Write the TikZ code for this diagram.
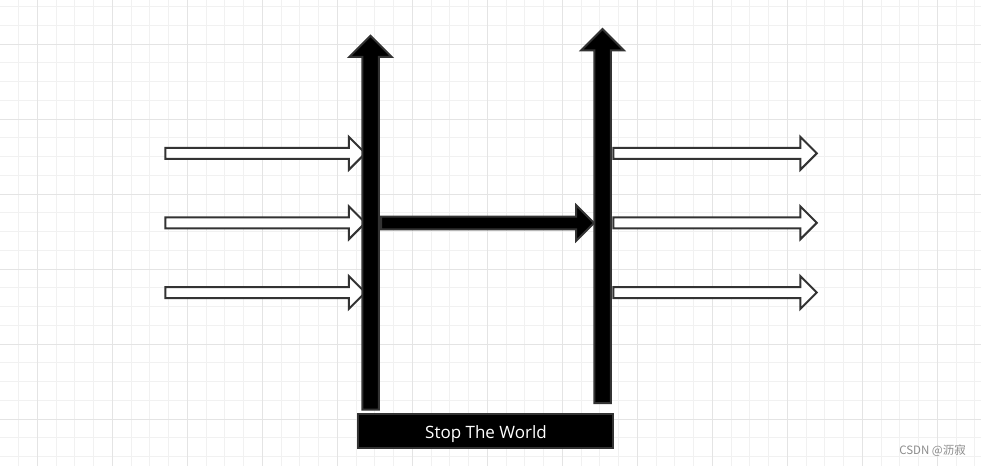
\documentclass[tikz,border=0pt]{standalone}
\usepackage{fontspec}
\setmainfont{Open Sans}
\newfontfamily\cjkfont{Noto Sans CJK SC}
\usetikzlibrary{shapes.arrows}
\definecolor{edgegray}{HTML}{333333}
\definecolor{minorgrid}{HTML}{F1F1F1}
\definecolor{majorgrid}{HTML}{E4E4E4}
\definecolor{wmgray}{HTML}{8C8C8C}
\begin{document}
\begin{tikzpicture}[x=1pt,y=-1pt,
  blockarrow/.style={single arrow, draw=edgegray, line width=2pt, inner xsep=0pt,
    minimum width=0pt, single arrow tip angle=90, single arrow head indent=0pt,
    outer sep=0pt, anchor=tail},
  hollow/.style={blockarrow, fill=white, inner ysep=4.5pt, single arrow head extend=11pt},
  inarrow/.style={hollow, minimum height=200pt},
  outarrow/.style={hollow, minimum height=203.5pt},
  solidarrow/.style={blockarrow, fill=black},
  barrow/.style={solidarrow, inner ysep=7.25pt, single arrow head extend=13pt,
    minimum height=374pt, rotate=90},
  midarrow/.style={solidarrow, inner ysep=5.3pt, single arrow head extend=11.5pt,
    minimum height=213pt},
  stwbox/.style={draw=edgegray, fill=black, line width=2pt, minimum width=255pt,
    minimum height=34pt, inner sep=0pt, text=white, text height=12.1pt, text depth=0pt,
    font=\fontsize{17}{18}\selectfont},
  wmtext/.style={text=wmgray, font=\cjkfont\fontsize{11.5}{13}\selectfont,
    anchor=east, inner sep=0pt}
]
\useasboundingbox (0,0) rectangle (981,466);
\fill[white] (0,0) rectangle (981,466);
% grid
\foreach \i in {0,...,52} \draw[minorgrid, line width=1pt] ({-0.2+18.75*\i},0) -- ++(0,466);
\foreach \j in {0,...,24} \draw[minorgrid, line width=1pt] (0,{6.5+18.75*\j}) -- ++(981,0);
\foreach \i in {0,...,13} \draw[majorgrid, line width=1pt] ({37.3+75*\i},0) -- ++(0,466);
\foreach \j in {0,...,6} \draw[majorgrid, line width=1pt] (0,{44+75*\j}) -- ++(981,0);
% input arrows
\node[inarrow] (in1) at (165.3,153.3) {};
\node[inarrow] (in2) at (165.3,222.8) {};
\node[inarrow] (in3) at (165.3,292.5) {};
% middle arrow
\node[midarrow] (mid) at (381,223) {};
% vertical bars
\node[barrow] (lbar) at (370.5,409.7) {};
\node[barrow] (rbar) at (602.5,403) {};
% output arrows
\node[outarrow] (out1) at (613.3,153.3) {};
\node[outarrow] (out2) at (613.3,222.8) {};
\node[outarrow] (out3) at (613.3,292.5) {};
% stop the world box
\node[stwbox] (stw) at (485.8,431.3) {};
\node[text=white, font=\fontsize{17}{18}\selectfont, inner sep=0pt, anchor=base] (stwtext)
  at (486,438.7) {Stop The World};
% watermark
\node[wmtext] (wm) at (966,451) {CSDN @沥寂};
\end{tikzpicture}
\end{document}
